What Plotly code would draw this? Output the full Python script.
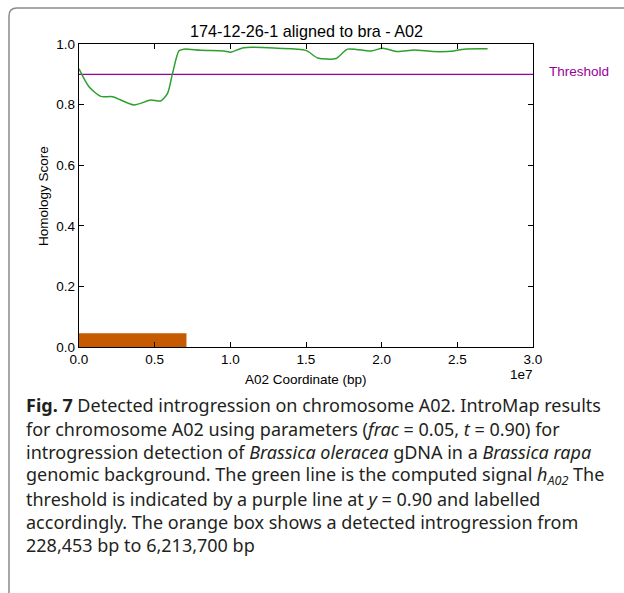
import plotly.graph_objects as go

# ---------------- data ----------------
position_bp = [0, 0.66e6, 1.44e6, 2.21e6, 3.64e6, 4.74e6, 5.40e6, 5.85e6, 6.18e6, 6.61e6,
               6.94e6, 8.05e6, 9.57e6, 1.003e7, 1.089e7, 1.312e7, 1.499e7, 1.577e7,
               1.698e7, 1.775e7, 1.929e7, 2.007e7, 2.106e7, 2.214e7, 2.346e7, 2.478e7,
               2.544e7, 2.70e7]
homology_score = [0.918, 0.859, 0.827, 0.826, 0.799, 0.815, 0.812, 0.837, 0.903, 0.978,
                  0.983, 0.979, 0.977, 0.973, 0.988, 0.986, 0.979, 0.954,
                  0.952, 0.983, 0.977, 0.986, 0.975, 0.980, 0.975, 0.977,
                  0.983, 0.984]
threshold = 0.90
x_extent = [0, 3.0e7]
introgression_start = 0
introgression_end = 7.1e6
introgression_height = 0.045

x_tick_vals = [0, 0.5e7, 1.0e7, 1.5e7, 2.0e7, 2.5e7, 3.0e7]
x_tick_text = ["0.0", "0.5", "1.0", "1.5", "2.0", "2.5", "3.0"]
y_tick_vals = [0.0, 0.2, 0.4, 0.6, 0.8, 1.0]
y_tick_text = ["0.0", "0.2", "0.4", "0.6", "0.8", "1.0"]

title_text = "174-12-26-1 aligned to bra - A02"
x_label = "A02 Coordinate (bp)"
y_label = "Homology Score"
offset_text = "1e7"
caption_lines = [
    "<b>Fig. 7</b> Detected introgression on chromosome A02. IntroMap results",
    "for chromosome A02 using parameters (<i>frac</i> = 0.05, <i>t</i> = 0.90) for",
    "introgression detection of <i>Brassica oleracea</i> gDNA in a <i>Brassica rapa</i>",
    "genomic background. The green line is the computed signal <i>h</i><sub><i>A02</i></sub> The",
    "threshold is indicated by a purple line at <i>y</i> = 0.90 and labelled",
    "accordingly. The orange box shows a detected introgression from",
    "228,453 bp to 6,213,700 bp",
]

# ---------------- layout geometry (pixels) ----------------
W, H = 624, 593
L, R, T, B = 79, 533, 44, 347


def px(xp):
    return (xp - L) / (R - L)


def py(yp):
    return (B - yp) / (B - T)


AX_FONT = "Liberation Sans, Arial, sans-serif"
CAP_FONT = "Noto Sans, sans-serif"
AX_SIZE = 13.5

fig = go.Figure()

# orange introgression box
fig.add_trace(go.Scatter(
    x=[introgression_start, introgression_end, introgression_end, introgression_start, introgression_start],
    y=[0, 0, introgression_height, introgression_height, 0],
    fill="toself", fillcolor="#c55a00", mode="lines",
    line=dict(color="#c55a00", width=0), hoverinfo="skip", showlegend=False))

# threshold line
fig.add_trace(go.Scatter(
    x=x_extent, y=[threshold, threshold], mode="lines",
    line=dict(color="#990099", width=1.3), showlegend=False))

# homology signal
fig.add_trace(go.Scatter(
    x=position_bp, y=homology_score, mode="lines",
    line=dict(color="#2ca02c", width=1.5, shape="spline", smoothing=0.7),
    showlegend=False))

axis_common = dict(
    showline=True, linecolor="black", linewidth=1.3, mirror="ticks",
    ticks="inside", ticklen=5, tickcolor="black", tickwidth=1,
    showgrid=False, zeroline=False,
    tickfont=dict(family=AX_FONT, size=AX_SIZE, color="black"),
)

fig.update_xaxes(range=x_extent, tickvals=x_tick_vals, ticktext=x_tick_text, **axis_common)
fig.update_yaxes(range=[0, 1], tickvals=y_tick_vals, ticktext=y_tick_text, **axis_common)

annotations = [
    dict(text=title_text, x=0.5, y=py(31), xref="paper", yref="paper",
         showarrow=False, font=dict(family=AX_FONT, size=16.2, color="black"),
         xanchor="center", yanchor="middle"),
    dict(text=x_label, x=0.5, y=py(379), xref="paper", yref="paper",
         showarrow=False, font=dict(family=AX_FONT, size=AX_SIZE, color="black"),
         xanchor="center", yanchor="middle"),
    dict(text=y_label, x=px(43), y=py(196), xref="paper", yref="paper", textangle=-90,
         showarrow=False, font=dict(family=AX_FONT, size=AX_SIZE, color="black"),
         xanchor="center", yanchor="middle"),
    dict(text="Threshold", x=px(547), y=threshold + 0.01, xref="paper", yref="y",
         showarrow=False, font=dict(family=AX_FONT, size=AX_SIZE, color="#990099"),
         xanchor="left", yanchor="middle"),
    dict(text=offset_text, x=px(521), y=py(374), xref="paper", yref="paper",
         showarrow=False, font=dict(family=AX_FONT, size=AX_SIZE, color="black"),
         xanchor="center", yanchor="middle"),
]

baselines = [411.7, 435, 458.3, 481.7, 505, 528.3, 551.6]
for line, base in zip(caption_lines, baselines):
    annotations.append(dict(
        text=line, x=px(24), y=py(base - 6.5), xref="paper", yref="paper",
        showarrow=False, font=dict(family=CAP_FONT, size=18, color="#231f20"),
        xanchor="left", yanchor="middle", align="left"))

# rounded gray frame (top and left edges)
x0, y0, r = px(9), py(8), 8
rx = r / (R - L)
ry = r / (B - T)
frame_path = (f"M {px(9)} {py(600)} L {x0} {y0 - ry} "
              f"Q {x0} {y0} {x0 + rx} {y0} L {px(630)} {y0}")

fig.update_layout(
    width=W, height=H,
    margin=dict(l=L, r=W - R, t=T, b=H - B, pad=0),
    paper_bgcolor="white", plot_bgcolor="white",
    annotations=annotations,
    shapes=[dict(type="path", path=frame_path, xref="paper", yref="paper",
                 line=dict(color="#8a8a8a", width=1.5))],
)

fig.write_html("out.html")
